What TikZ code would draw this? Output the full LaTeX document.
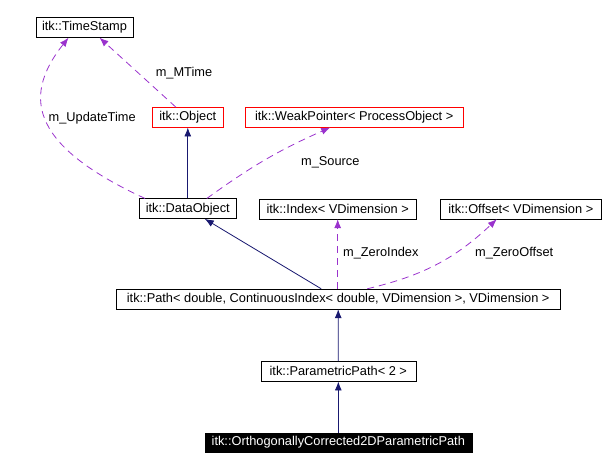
\documentclass[tikz,border=0pt]{standalone}
\usepackage{fontspec}
\setmainfont{Liberation Sans}
\usetikzlibrary{arrows.meta,positioning}
\definecolor{inhcol}{RGB}{25,25,112}
\definecolor{usecol}{RGB}{154,50,205}
\tikzset{>={Latex[length=9pt,width=7pt]}}
\tikzset{font=\fontsize{12.8}{15}\selectfont}
\tikzset{cls/.style={draw=black, fill=white, inner xsep=0pt, inner ysep=0pt,
    minimum height=20pt},
  weak/.style={cls, draw=red},
  self/.style={cls, fill=black, text=white, draw=black, minimum height=19pt},
  inh/.style={->, color=inhcol, thick},
  use/.style={->, color=usecol, dash pattern=on 7pt off 5pt, thick},
  lbl/.style={inner sep=1pt}}

\begin{document}
\begin{tikzpicture}[x=1pt,y=1pt]
  \useasboundingbox (0,0) rectangle (613,470);
  % classes
  \node[cls, minimum width=97pt] (ts) at (84.5,442.5) {itk::TimeStamp};
  \node[weak, minimum width=71pt] (obj) at (187.8,352.7) {itk::Object};
  \node[weak, minimum width=218pt] (weakptr) at (354.2,352.7) {itk::WeakPointer< ProcessObject >};
  \node[cls, minimum width=97pt] (dataobj) at (187.8,261.3) {itk::DataObject};
  \node[cls, minimum width=157pt] (index) at (337.7,261) {itk::Index< VDimension >};
  \node[cls, minimum width=161pt] (offset) at (520.8,261) {itk::Offset< VDimension >};
  \node[cls, minimum width=444pt] (path) at (338.2,171)
    {itk::Path< double, ContinuousIndex< double, VDimension >, VDimension >};
  \node[cls, minimum width=155pt] (parampath) at (338.3,98.7) {itk::ParametricPath< 2 >};
  \node[self, minimum width=267pt] (ortho) at (338.3,27.7) {itk::OrthogonallyCorrected2DParametricPath};

  % inheritance
  \draw[inh] (dataobj) -- (obj);
  \draw[inh] (path) -- (dataobj);
  \draw[inh] (parampath) -- (path);
  \draw[inh] (ortho) -- (parampath);

  % members
  \draw[use] ([xshift=-12pt]obj.north) -- ([xshift=15pt]ts.south);
  \node[lbl] (mtime) at (184,397.3) {m\_MTime};
  \draw[use] ([xshift=6pt]dataobj.north west) .. controls (36.3,321.8) and (18.9,369.8) .. ([xshift=-16pt]ts.south);
  \node[lbl] (updtime) at (92.2,352.3) {m\_UpdateTime};
  \draw[use] ([xshift=19pt]dataobj.north) to[bend left=6] ([xshift=-24pt]weakptr.south);
  \node[lbl] (source) at (330.3,307.3) {m\_Source};
  \draw[use] (path.north -| index.south) -- (index.south);
  \node[lbl] (zeroidx) at (380.8,217) {m\_ZeroIndex};
  \draw[use] ([xshift=29pt]path.north) to[bend right=15] ([xshift=-24pt]offset.south);
  \node[lbl] (zerooff) at (514.2,217) {m\_ZeroOffset};
\end{tikzpicture}
\end{document}
